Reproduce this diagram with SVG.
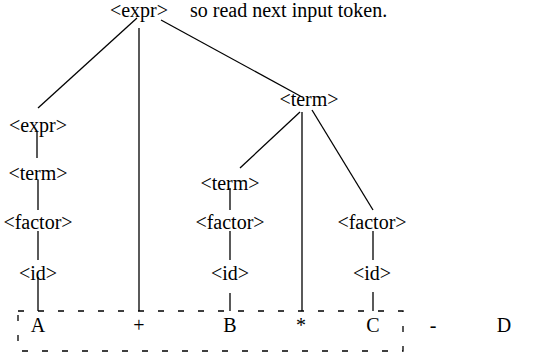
<svg xmlns="http://www.w3.org/2000/svg" width="560" height="354" viewBox="0 0 560 354">
<style>
text{font-family:'Liberation Serif','DejaVu Serif',serif;font-size:20px;fill:#000;text-anchor:middle}
.e{stroke:#000;stroke-width:1.3;fill:none}
.box{stroke:#000;stroke-width:1.3;fill:none;stroke-dasharray:6 14}
</style>
<rect width="560" height="354" fill="#fff"/>
<g id="connectors">
<line class="e" x1="137" y1="18" x2="38" y2="108"/>
<line class="e" x1="139" y1="28" x2="139" y2="311"/>
<line class="e" x1="161" y1="20" x2="302" y2="97"/>
<line class="e" x1="37" y1="132" x2="37" y2="158"/>
<line class="e" x1="38" y1="180" x2="38" y2="210"/>
<line class="e" x1="38" y1="231" x2="38" y2="260"/>
<line class="e" x1="38" y1="277" x2="38" y2="311"/>
<line class="e" x1="300" y1="112" x2="240" y2="168"/>
<line class="e" x1="302" y1="112" x2="302" y2="311"/>
<line class="e" x1="312" y1="110" x2="373" y2="210"/>
<line class="e" x1="230" y1="188" x2="230" y2="210"/>
<line class="e" x1="230" y1="231" x2="230" y2="260"/>
<line class="e" x1="230" y1="293" x2="230" y2="311"/>
<line class="e" x1="373" y1="231" x2="373" y2="260"/>
<line class="e" x1="373" y1="292" x2="373" y2="311"/>
</g>
<rect id="window" class="box" x="18" y="311" width="385" height="40"/>
<g font-family="Liberation Serif, serif">
<g id="root"><text x="139" y="17">&lt;expr&gt;</text></g>
<g id="note"><text x="190" y="17" style="text-anchor:start">so read next input token.</text></g>
<g id="expr2"><text x="38" y="132">&lt;expr&gt;</text></g>
<g id="term-left"><text x="38" y="180">&lt;term&gt;</text></g>
<g id="factor-left"><text x="38" y="229">&lt;factor&gt;</text></g>
<g id="id-left"><text x="38" y="280">&lt;id&gt;</text></g>
<g id="term-top"><text x="309" y="106">&lt;term&gt;</text></g>
<g id="term-mid"><text x="230" y="190">&lt;term&gt;</text></g>
<g id="factor-mid"><text x="230" y="229">&lt;factor&gt;</text></g>
<g id="id-mid"><text x="230" y="280">&lt;id&gt;</text></g>
<g id="factor-right"><text x="372" y="229">&lt;factor&gt;</text></g>
<g id="id-right"><text x="372" y="280">&lt;id&gt;</text></g>
<g id="leafA"><text x="38" y="332">A</text></g>
<g id="leafPlus"><text x="139" y="332">+</text></g>
<g id="leafB"><text x="230" y="332">B</text></g>
<g id="leafStar"><text x="301" y="332">*</text></g>
<g id="leafC"><text x="373" y="332">C</text></g>
<g id="leafMinus"><text x="433" y="332">-</text></g>
<g id="leafD"><text x="504" y="332">D</text></g>
</g>
</svg>
